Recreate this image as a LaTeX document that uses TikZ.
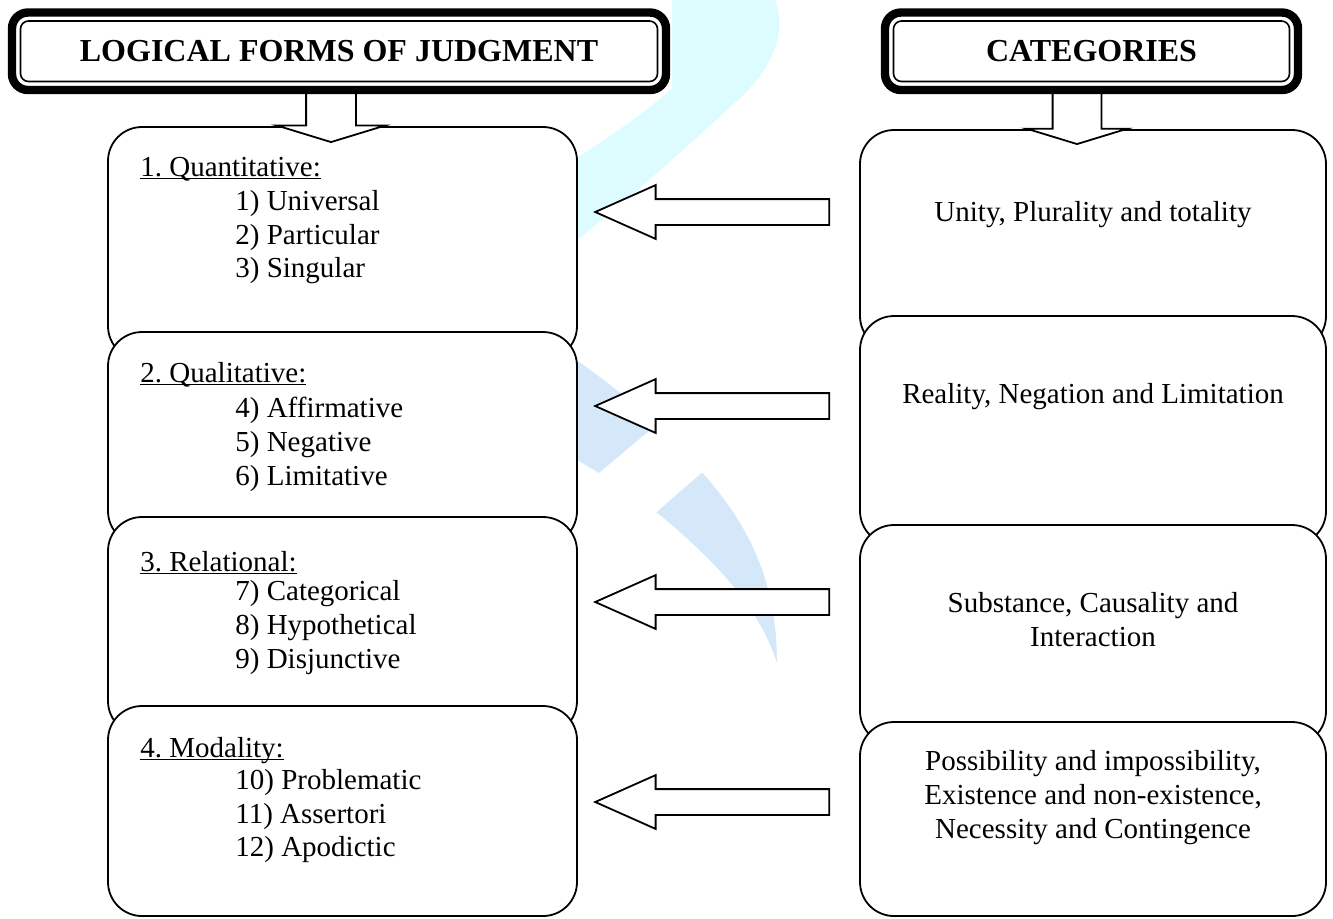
\documentclass[tikz,border=0pt]{standalone}
\usepackage{fontspec}
\setmainfont{Liberation Serif}
\usetikzlibrary{shapes.arrows}
\frenchspacing

\definecolor{wmcyan}{RGB}{220,252,255}
\definecolor{wmblue}{RGB}{213,232,250}
\newcommand{\uln}[1]{\underline{\smash{#1}}}

\tikzset{
  formbox/.style={draw, fill=white, line width=0.9pt, rounded corners=17pt,
    minimum width=234.5pt, inner sep=0pt, outer sep=0pt},
  catbox/.style={formbox, minimum width=233pt},
  headbox/.style={draw, fill=white, line width=4.2pt, rounded corners=8pt,
    inner sep=0pt, outer sep=0pt, minimum height=38.75pt,
    font=\fontsize{16pt}{19pt}\selectfont\bfseries},
  maparrow/.style={single arrow, draw, fill=white, line width=0.9pt,
    rotate=180, anchor=tip, minimum height=117pt, inner xsep=0pt, inner ysep=6pt,
    single arrow head extend=7pt, single arrow tip angle=48},
  downarrow/.style={single arrow, draw, fill=white, line width=0.9pt,
    rotate=-90, anchor=tip, minimum height=27pt, inner xsep=0pt, inner ysep=12pt,
    single arrow head extend=14.5pt, single arrow tip angle=146},
  txt/.style={font=\fontsize{14.5pt}{17pt}\selectfont, inner sep=0pt, anchor=base west},
  cattxt/.style={txt, anchor=base},
}

\begin{document}
\begin{tikzpicture}[x=0.5pt, y=-0.5pt]
\useasboundingbox (0,0) rectangle (1333,918);

% watermark
\fill[wmcyan] (672,0) -- (775,0) .. controls (788,35) and (770,70) .. (740,98)
  .. controls (700,135) and (640,190) .. (577,240) -- (540,265) -- (540,185)
  -- (577,158) .. controls (620,130) and (655,105) .. (672,88) -- cycle;
\fill[wmblue] (540,335) .. controls (600,375) and (660,420) .. (700,470)
  .. controls (740,515) and (777,570) .. (777,663)
  .. controls (760,610) and (720,565) .. (660,515)
  .. controls (620,485) and (580,460) .. (540,440) -- cycle;
\fill[white] (580,489) -- (680,405) -- (730,448) -- (630,535) -- cycle;

% judgment boxes
\node[formbox, minimum height=116.5pt] (q1) at (342.5,243.5) {};
\node[formbox, minimum height=106.5pt] (q2) at (342.5,438.5) {};
\node[formbox, minimum height=109pt] (q3) at (342.5,626) {};
\node[formbox, minimum height=105pt] (q4) at (342.5,811) {};

% category boxes
\node[catbox, minimum height=110pt] (c1) at (1093,240) {};
\node[catbox, minimum height=114.5pt] (c2) at (1093,430.5) {};
\node[catbox, minimum height=110pt] (c3) at (1093,635) {};
\node[catbox, minimum height=97pt] (c4) at (1093,819) {};

% arrows
\node[downarrow] (dl) at (331,143) {};
\node[downarrow, inner ysep=11.75pt, single arrow head extend=13pt] (dr) at (1077,145) {};
\node[maparrow] (a1) at (593,212) {};
\node[maparrow] (a2) at (593,406) {};
\node[maparrow] (a3) at (593,602) {};
\node[maparrow] (a4) at (593,802) {};

% headers
\node[headbox, minimum width=327pt] (lfj) at (339,51.25) {LOGICAL FORMS OF JUDGMENT};
\node[headbox, minimum width=206.5pt] (cat) at (1091.5,51.25) {CATEGORIES};
\foreach \h in {lfj,cat}
  \draw[line width=0.8pt, rounded corners=4pt]
    ([shift={(4.25pt,-4.25pt)}]\h.north west) rectangle ([shift={(-4.25pt,4.25pt)}]\h.south east);

% judgment texts
\node[txt] (q1t) at (140,176) {\uln{1. Quantitative:}};
\foreach \y/\s [count=\i] in {210/1) Universal, 244/2) Particular, 277/3) Singular}
  \node[txt] (q1i\i) at (235,\y) {\s};
\node[txt] (q2t) at (140,382) {\uln{2. Qualitative:}};
\foreach \y/\s [count=\i] in {417/4) Affirmative, 451/5) Negative, 485/6) Limitative}
  \node[txt] (q2i\i) at (235,\y) {\s};
\node[txt] (q3t) at (140,571) {\uln{3. Relational:}};
\foreach \y/\s [count=\i] in {600/7) Categorical, 634/8) Hypothetical, 668/9) Disjunctive}
  \node[txt] (q3i\i) at (235,\y) {\s};
\node[txt] (q4t) at (140,757) {\uln{4. Modality:}};
\foreach \y/\s [count=\i] in {789/10) Problematic, 823/11) Assertori, 856/12) Apodictic}
  \node[txt] (q4i\i) at (235,\y) {\s};

% category texts
\node[cattxt] (c1t) at (1093,221) {Unity, Plurality and totality};
\node[cattxt] (c2t) at (1093,403) {Reality, Negation and Limitation};
\node[cattxt] (c3a) at (1093,612) {Substance, Causality and};
\node[cattxt] (c3b) at (1093,646) {Interaction};
\node[cattxt] (c4a) at (1093,770) {Possibility and impossibility,};
\node[cattxt] (c4b) at (1093,804) {Existence and non-existence,};
\node[cattxt] (c4c) at (1093,838) {Necessity and Contingence};
\end{tikzpicture}
\end{document}
